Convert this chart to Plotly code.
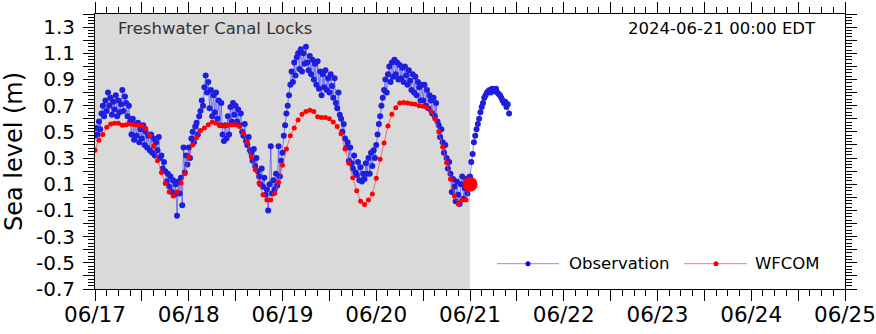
import plotly.graph_objects as go
import pandas as pd

# ---------------- data ----------------
station_name = "Freshwater Canal Locks"
now_label = "2024-06-21 00:00 EDT"

obs_start = "2024-06-17 00:00"
obs_step = "20min"
obs_level = [
    # 06/17
    0.47, 0.53, 0.48, 0.58, 0.52, 0.64, 0.70, 0.62, 0.74, 0.66, 0.80, 0.70,
    0.76, 0.63, 0.73, 0.67, 0.78, 0.62, 0.74, 0.65, 0.71, 0.82, 0.66, 0.77,
    0.72, 0.62, 0.70, 0.58, 0.48, 0.60, 0.44, 0.56, 0.47, 0.57, 0.42, 0.52,
    0.45, 0.55, 0.40, 0.50, 0.38, 0.47, 0.36, 0.48, 0.34, 0.45, 0.32, 0.42,
    0.36, 0.46, 0.30, 0.32, 0.22, 0.27, 0.20, 0.12, 0.18, 0.08, 0.16, 0.04,
    0.13, 0.02, 0.10, -0.14, 0.12, 0.03, 0.15, -0.06, 0.38, 0.19, 0.32, 0.25,
    # 06/18
    0.38, 0.30, 0.45, 0.50, 0.42, 0.54, 0.57, 0.48, 0.62, 0.66, 0.74, 0.70,
    0.84, 0.93, 0.80, 0.88, 0.68, 0.82, 0.62, 0.78, 0.65, 0.80, 0.60, 0.74,
    0.55, 0.72, 0.48, 0.43, 0.55, 0.45, 0.62, 0.48, 0.69, 0.58, 0.72, 0.63,
    0.70, 0.58, 0.67, 0.55, 0.64, 0.50, 0.47, 0.56, 0.43, 0.40, 0.46, 0.36,
    0.34, 0.28, 0.37, 0.24, 0.30, 0.20, 0.16, 0.10, 0.22, 0.08, 0.15, 0.02,
    0.06, -0.10, 0.10, 0.39, 0.03, 0.13, 0.06, 0.18, 0.09, 0.39, 0.16, 0.28,
    # 06/19
    0.34, 0.47, 0.55, 0.64, 0.70, 0.78, 0.86, 0.96, 0.88, 1.03, 0.93, 1.07,
    1.10, 0.98, 1.13, 0.96, 1.10, 1.02, 1.15, 1.03, 0.97, 1.08, 0.94, 1.05,
    0.90, 1.02, 0.86, 1.04, 0.83, 0.96, 0.78, 0.94, 0.84, 0.97, 0.82, 0.91,
    0.80, 0.94, 0.85, 0.76, 0.91, 0.72, 0.68, 0.80, 0.63, 0.60, 0.50, 0.56,
    0.45, 0.38, 0.42, 0.28, 0.38, 0.26, 0.22, 0.32, 0.19, 0.17, 0.27, 0.13,
    0.23, 0.12, 0.18, 0.14, 0.26, 0.18, 0.30, 0.18, 0.34, 0.24, 0.36, 0.30,
    # 06/20
    0.40, 0.48, 0.56, 0.62, 0.70, 0.76, 0.82, 0.90, 0.80, 0.94, 1.00, 0.88,
    1.03, 0.92, 1.05, 0.94, 1.03, 0.90, 1.01, 0.91, 0.99, 0.88, 1.00, 0.93,
    0.86, 0.97, 0.89, 0.82, 0.94, 0.80, 0.92, 0.78, 0.88, 0.84, 0.74, 0.86,
    0.74, 0.86, 0.70, 0.82, 0.68, 0.78, 0.74, 0.64, 0.76, 0.62, 0.72, 0.58,
    0.55, 0.46, 0.52, 0.42, 0.34, 0.40, 0.30, 0.22, 0.27, 0.18, 0.04, 0.14,
    0.08, -0.03, 0.12, 0.02, -0.05, 0.10, 0.16, -0.01, 0.07, 0.14, 0.03, 0.15,
    # 06/21
    0.16, 0.27, 0.33, 0.42, 0.47, 0.52, 0.56, 0.60, 0.65, 0.69, 0.72, 0.76,
    0.78, 0.80, 0.81, 0.82, 0.80, 0.83, 0.82, 0.81, 0.83, 0.80, 0.79, 0.78,
    0.76, 0.74, 0.72, 0.73, 0.69, 0.71, 0.64,
]

wfcom_start = "2024-06-17 00:00"
wfcom_step = "1h"
wfcom_level = [
    0.36, 0.435, 0.48, 0.535, 0.56, 0.565, 0.565, 0.55, 0.555, 0.56, 0.555, 0.55,
    0.545, 0.525, 0.475, 0.39, 0.28, 0.19, 0.105, 0.04, 0.01, 0.04, 0.11, 0.18,
    0.31, 0.40, 0.455, 0.51, 0.53, 0.555, 0.575, 0.565, 0.55, 0.545, 0.55, 0.555,
    0.555, 0.54, 0.49, 0.42, 0.31, 0.21, 0.11, 0.02, -0.02, -0.02, 0.03, 0.115,
    0.245, 0.37, 0.47, 0.53, 0.59, 0.635, 0.655, 0.665, 0.655, 0.615, 0.61, 0.61,
    0.60, 0.575, 0.54, 0.485, 0.37, 0.26, 0.15, 0.05, -0.03, -0.055, -0.02, 0.025,
    0.145, 0.29, 0.415, 0.545, 0.635, 0.685, 0.72, 0.725, 0.72, 0.715, 0.71, 0.70,
    0.695, 0.685, 0.655, 0.60, 0.50, 0.385, 0.265, 0.14, 0.01, -0.05, -0.02, -0.02,
    0.10,
]

shade_start = "2024-06-17 00:00"
shade_end = "2024-06-21 00:00"

x_range = ["2024-06-17 00:00", "2024-06-25 00:00"]
x_day_ticks = ["2024-06-17", "2024-06-18", "2024-06-19", "2024-06-20", "2024-06-21",
               "2024-06-22", "2024-06-23", "2024-06-24", "2024-06-25"]
x_day_labels = ["06/17", "06/18", "06/19", "06/20", "06/21", "06/22", "06/23", "06/24", "06/25"]

y_range = [-0.7, 1.4]
y_label_values = [-0.7, -0.5, -0.3, -0.1, 0.1, 0.3, 0.5, 0.7, 0.9, 1.1, 1.3]
y_label_text = ["-0.7", "-0.5", "-0.3", "-0.1", "0.1", "0.3", "0.5", "0.7", "0.9", "1.1", "1.3"]

# ---------------- build ----------------
obs_time = pd.date_range(obs_start, periods=len(obs_level), freq=obs_step)
wfcom_time = pd.date_range(wfcom_start, periods=len(wfcom_level), freq=wfcom_step)

FONT = "DejaVu Sans"
OBS_LINE = "rgba(40,40,255,0.55)"
OBS_MARK = "rgb(30,30,225)"
WF_LINE = "rgba(255,60,60,0.7)"
WF_MARK = "rgb(255,0,0)"

fig = go.Figure()

fig.add_trace(go.Scatter(
    x=obs_time, y=obs_level, mode="lines+markers", name="Observation",
    line=dict(color=OBS_LINE, width=1),
    marker=dict(color=OBS_MARK, size=6, line=dict(width=0)),
    showlegend=False,
))
fig.add_trace(go.Scatter(
    x=wfcom_time, y=wfcom_level, mode="lines+markers", name="WFCOM",
    line=dict(color=WF_LINE, width=1),
    marker=dict(color=WF_MARK, size=5, line=dict(width=0)),
    showlegend=False,
))
fig.add_trace(go.Scatter(
    x=[wfcom_time[-1]], y=[wfcom_level[-1]], mode="markers",
    marker=dict(color=WF_MARK, size=15, line=dict(width=0)),
    showlegend=False, hoverinfo="skip",
))

# shaded hindcast period
fig.add_shape(type="rect", xref="x", yref="paper", x0=shade_start, x1=shade_end,
              y0=0, y1=1, fillcolor="#d9d9d9", line=dict(width=0), layer="below")

# major ticks: every 12 h on x (labels on days), every 0.1 on y (labels every 0.2)
x_tickvals, x_ticktext = [], []
for d, lab in zip(x_day_ticks, x_day_labels):
    t = pd.Timestamp(d)
    x_tickvals.append(t)
    x_ticktext.append(lab)
    if d != x_day_ticks[-1]:
        x_tickvals.append(t + pd.Timedelta(hours=12))
        x_ticktext.append("")

y_tickvals, y_ticktext = [], []
for v, lab in zip(y_label_values, y_label_text):
    y_tickvals.append(v)
    y_ticktext.append(lab)
    y_tickvals.append(round(v + 0.1, 2))
    y_ticktext.append("")

axis_common = dict(
    showline=True, linecolor="black", linewidth=1, mirror="ticks",
    ticks="outside", ticklen=11, tickwidth=1, tickcolor="black",
    showgrid=False, zeroline=False, automargin=False,
    ticklabeloverflow="allow",
)

fig.update_xaxes(
    range=x_range, tickmode="array", tickvals=x_tickvals, ticktext=x_ticktext,
    minor=dict(tickmode="linear", tick0=x_range[0], dtick=3 * 3600 * 1000,
               ticks="outside", ticklen=6, tickwidth=1, tickcolor="black", showgrid=False),
    tickfont=dict(family=FONT, size=21.5, color="black"),
    ticklabelstandoff=-5,
    **axis_common,
)
fig.update_yaxes(
    range=y_range, tickmode="array", tickvals=y_tickvals, ticktext=y_ticktext,
    minor=dict(tickmode="linear", tick0=y_range[0], dtick=0.025,
               ticks="outside", ticklen=6, tickwidth=1, tickcolor="black", showgrid=False),
    tickfont=dict(family=FONT, size=20, color="black"),
    title=dict(text="Sea level (m)", font=dict(family=FONT, size=24, color="black"), standoff=8),
    ticklabelstandoff=4,
    **axis_common,
)

# annotations
fig.add_annotation(xref="paper", yref="paper", x=0.028, y=0.949, xanchor="left", yanchor="middle",
                   text=station_name, showarrow=False,
                   font=dict(family=FONT, size=16.5, color="#333333"))
fig.add_annotation(xref="paper", yref="paper", x=0.964, y=0.949, xanchor="right", yanchor="middle",
                   text=now_label, showarrow=False,
                   font=dict(family=FONT, size=16.5, color="black"))

# legend (drawn manually so the sample lines match the original length)
legend_items = [
    ("Observation", OBS_LINE, "rgb(0,0,255)", 0.536, 0.6187, 0.5773, 0.6293),
    ("WFCOM", WF_LINE, WF_MARK, 0.7853, 0.8693, 0.828, 0.8773),
]
ly = 0.092
for name, lcol, mcol, x0, x1, xm, xt in legend_items:
    fig.add_shape(type="line", xref="paper", yref="paper", x0=x0, x1=x1, y0=ly, y1=ly,
                  line=dict(color=lcol, width=1))
    fig.add_shape(type="circle", xref="paper", yref="paper", xsizemode="pixel", ysizemode="pixel",
                  xanchor=xm, yanchor=ly, x0=-2.5, x1=2.5, y0=-2.5, y1=2.5,
                  fillcolor=mcol, line=dict(width=0))
    fig.add_annotation(xref="paper", yref="paper", x=xt, y=ly, xanchor="left", yanchor="middle",
                       text=name, showarrow=False, font=dict(family=FONT, size=16.5, color="black"))

fig.update_layout(
    width=876, height=334,
    margin=dict(l=95, r=31, t=14, b=45),
    plot_bgcolor="white", paper_bgcolor="white",
    showlegend=False,
    font=dict(family=FONT),
)

fig.write_html("out.html")
